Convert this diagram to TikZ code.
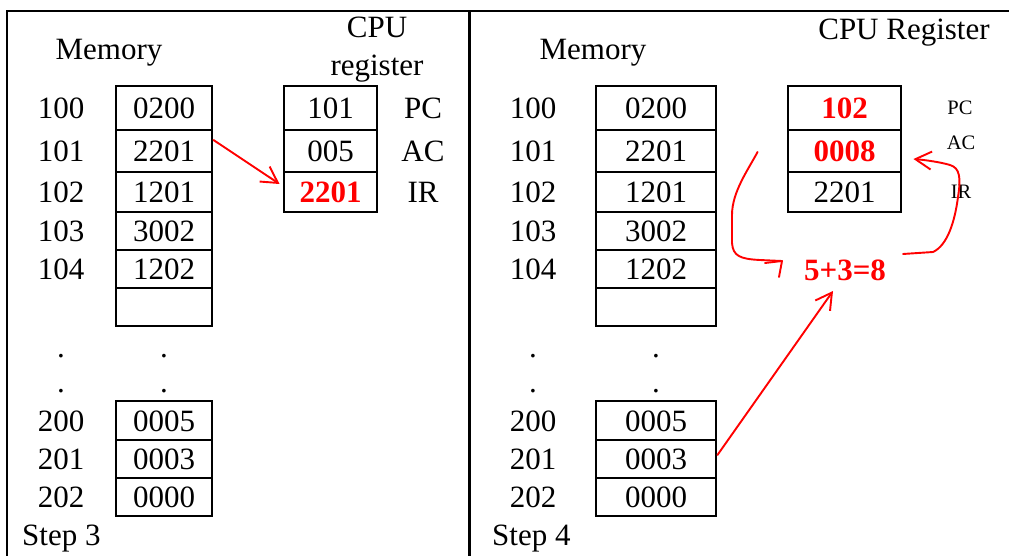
\documentclass[tikz,border=0pt]{standalone}
\usepackage{fontspec}
\setmainfont{Liberation Serif}
\usetikzlibrary{arrows.meta,calc}
\newcommand\bigtext{\fontsize{31}{36}\selectfont}
\newcommand\smalltext{\fontsize{20.5}{24}\selectfont}
\begin{document}
\begin{tikzpicture}[x=1pt,y=-1pt,
  frame/.style={line width=2.8pt},
  cell/.style={draw, line width=2.9pt, inner sep=0pt, text height=21pt, text depth=0pt, font=\bigtext},
  lbl/.style={inner sep=0pt, text height=21pt, text depth=0pt, font=\bigtext},
  basetxt/.style={inner sep=0pt, anchor=base, font=\bigtext},
  smalltxt/.style={inner sep=0pt, anchor=base, font=\smalltext},
  hot/.style={text=red, font=\bigtext\bfseries},
  redline/.style={draw=red, line width=1.9pt, line cap=round, line join=round},
  redarrow/.style={redline, -{Straight Barb[length=16pt,width=18pt]}},
  memL/.style={cell, minimum width=96pt},
  regL/.style={cell, minimum width=93pt},
  memR/.style={cell, minimum width=120pt},
  regR/.style={cell, minimum width=113pt}
]
\useasboundingbox (0,0) rectangle (1009,556);

% panel frames
\draw[frame] (7,556) -- (7,11) -- (1009,11);
\draw[frame] (469.5,11) -- (469.5,556);

% ---------- Step 3 ----------
\node[basetxt] (memTitleL) at (109,60) {Memory};
\node[basetxt] (cpuTitleL) at (377,38) {CPU};
\node[basetxt] (regTitleL) at (377,76) {register};

\node[lbl] (aL100) at (61,108) {100};
\node[lbl] (aL101) at (61,151) {101};
\node[lbl] (aL102) at (61,192) {102};
\node[lbl] (aL103) at (61,231) {103};
\node[lbl] (aL104) at (61,269) {104};
\node[lbl] (aL200) at (61,421) {200};
\node[lbl] (aL201) at (61,459) {201};
\node[lbl] (aL202) at (61,497) {202};

\node[memL, minimum height=44pt] (mL0) at (164,108) {0200};
\node[memL, minimum height=42pt] (mL1) at (164,151) {2201};
\node[memL, minimum height=40pt] (mL2) at (164,192) {1201};
\node[memL, minimum height=38pt] (mL3) at (164,231) {3002};
\node[memL, minimum height=38pt] (mL4) at (164,269) {1202};
\node[memL, minimum height=38pt] (mL5) at (164,307) {};
\node[memL, minimum height=39pt] (mL200) at (164,420.5) {0005};
\node[memL, minimum height=38pt] (mL201) at (164,459) {0003};
\node[memL, minimum height=38pt] (mL202) at (164,497) {0000};

\node[basetxt] (dL1) at (61,357) {.};
\node[basetxt] (dL2) at (164,357) {.};
\node[basetxt] (dL3) at (61,392) {.};
\node[basetxt] (dL4) at (164,392) {.};

\node[regL, minimum height=44pt] (rL0) at (330.5,108) {101};
\node[regL, minimum height=42pt] (rL1) at (330.5,151) {005};
\node[regL, minimum height=40pt, hot] (rL2) at (330.5,192) {2201};

\node[lbl] (pcL) at (423,108) {PC};
\node[lbl] (acL) at (423,151) {AC};
\node[lbl] (irL) at (423,192) {IR};

\node[basetxt, anchor=base west] (stepL) at (22,545) {Step 3};

\draw[redarrow] ([yshift=11pt]mL1.east) -- ([xshift=-3pt,yshift=8pt]rL2.west);

% ---------- Step 4 ----------
\node[basetxt] (memTitleR) at (593,60) {Memory};
\node[basetxt] (cpuTitleR) at (904,40) {CPU Register};

\node[lbl] (aR100) at (533,108) {100};
\node[lbl] (aR101) at (533,151) {101};
\node[lbl] (aR102) at (533,192) {102};
\node[lbl] (aR103) at (533,231) {103};
\node[lbl] (aR104) at (533,269) {104};
\node[lbl] (aR200) at (533,421) {200};
\node[lbl] (aR201) at (533,459) {201};
\node[lbl] (aR202) at (533,497) {202};

\node[memR, minimum height=44pt] (mR0) at (656,108) {0200};
\node[memR, minimum height=42pt] (mR1) at (656,151) {2201};
\node[memR, minimum height=40pt] (mR2) at (656,192) {1201};
\node[memR, minimum height=38pt] (mR3) at (656,231) {3002};
\node[memR, minimum height=38pt] (mR4) at (656,269) {1202};
\node[memR, minimum height=38pt] (mR5) at (656,307) {};
\node[memR, minimum height=39pt] (mR200) at (656,420.5) {0005};
\node[memR, minimum height=38pt] (mR201) at (656,459) {0003};
\node[memR, minimum height=38pt] (mR202) at (656,497) {0000};

\node[basetxt] (dR1) at (533,357) {.};
\node[basetxt] (dR2) at (656,357) {.};
\node[basetxt] (dR3) at (533,392) {.};
\node[basetxt] (dR4) at (656,392) {.};

\node[regR, minimum height=44pt, hot] (rR0) at (844.5,108) {102};
\node[regR, minimum height=42pt, hot] (rR1) at (844.5,151) {0008};
\node[regR, minimum height=40pt] (rR2) at (844.5,192) {2201};

\node[smalltxt] (pcR) at (960,115) {PC};
\node[smalltxt] (acR) at (961,150) {AC};
\node[smalltxt] (irR) at (961,199) {IR};

\node[basetxt, hot] (sum) at (845,280) {5+3=8};

\node[basetxt, anchor=base west] (stepR) at (492,545) {Step 4};

% operand fetch and addition
\draw[redarrow] ([yshift=4pt]mR201.east) -- ($(sum.base)+(-12,11)$);

\coordinate (c1s) at ($(rR1.west)+(-29,1)$);
\coordinate (c1e) at ($(sum.base)+(-63,-19)$);
\draw[redline] (c1s) .. controls (748,170) and (732,192) .. (732,215)
  -- (732,243) .. controls (733,256) and (740,259) .. (760,260) -- (c1e);
\draw[redline] ($(c1e)+(-17,2)$) -- (c1e) -- ($(c1e)+(-3,16)$);

\coordinate (c2s) at ($(sum.base)+(58,-26)$);
\coordinate (c2e) at ($(rR1.east)+(11,8)$);
\draw[redarrow] (c2s) -- (933,252) .. controls (948,245) and (955,220) .. (958,197)
  .. controls (961,178) and (960,168) .. (950,165)
  .. controls (940,162) and (925,160) .. (c2e);
\end{tikzpicture}
\end{document}
